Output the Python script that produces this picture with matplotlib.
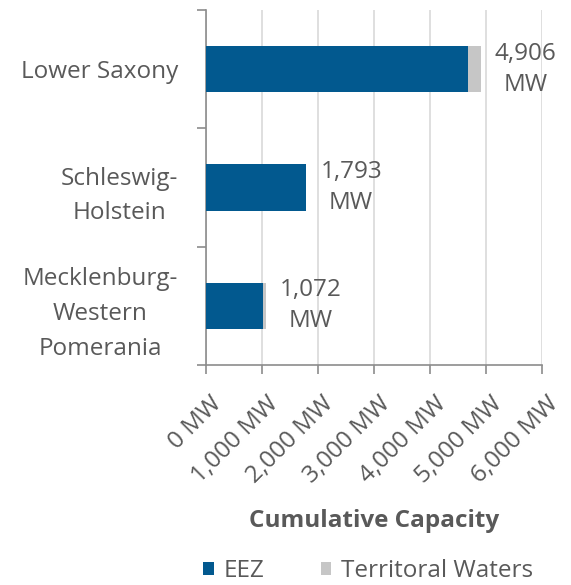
import numpy as np
import matplotlib.pyplot as plt
from matplotlib.ticker import FuncFormatter, FixedLocator
from matplotlib.transforms import ScaledTranslation

plt.rcParams['font.family'] = ['Open Sans', 'DejaVu Sans']

STATES = ["Lower Saxony", "Schleswig-\nHolstein", "Mecklenburg-\nWestern\nPomerania"]
EEZ = [4680, 1793, 1025]
TERRITORIAL = [226, 0, 47]
X_TICKS = [0, 1000, 2000, 3000, 4000, 5000, 6000]

BLUE = "#02598F"
GREY = "#C6C6C6"
TEXT = "#595959"
AXIS = "#8C8C8C"
FS = 17.5


def plot_capacity():
    fig = plt.figure(figsize=(5.71, 5.85), dpi=100)
    ax = fig.add_axes([0.3608, 0.376, 0.5884, 0.6069])

    y = np.arange(len(STATES))
    eez = np.array(EEZ)
    terr = np.array(TERRITORIAL)
    total = eez + terr

    ax.barh(y, eez, height=0.39, color=BLUE, label="EEZ", zorder=3)
    ax.barh(y, terr, left=eez, height=0.39, color=GREY, label="Territoral Waters", zorder=3)

    for yi, t in zip(y, total):
        ax.annotate(f"{t:,}\nMW", xy=(t, yi), xytext=(10, 0), textcoords="offset points",
                    ha="left", va="center", multialignment="center", fontsize=FS,
                    color=TEXT, linespacing=1.4, zorder=4)

    ax.set_xlim(0, 6000)
    ax.set_ylim(2.5, -0.5)
    ax.xaxis.set_major_locator(FixedLocator(X_TICKS))
    ax.xaxis.set_major_formatter(FuncFormatter(lambda v, p: f"{int(v):,} MW"))
    ax.grid(axis="x", color="#D9D9D9", linewidth=1.2, zorder=0)

    ax.yaxis.set_major_locator(FixedLocator([-0.5, 0.5, 1.5, 2.5]))
    ax.yaxis.set_major_formatter(FuncFormatter(lambda v, p: ""))
    ax.set_yticks(y, STATES, minor=True)
    for lab in ax.get_yticklabels(minor=True):
        lab.set_multialignment("center")
        lab.set_linespacing(1.6)

    ax.tick_params(axis="y", which="major", length=6.5, width=1.2, color=AXIS)
    ax.tick_params(axis="y", which="minor", length=0, pad=20, labelsize=FS, labelcolor=TEXT)
    ax.tick_params(axis="x", which="major", length=6.5, width=1.2, color=AXIS,
                   labelsize=FS, labelcolor=TEXT, pad=13)
    shift = ScaledTranslation(4 / 100, 0, fig.dpi_scale_trans)
    for lab in ax.get_xticklabels():
        lab.set_rotation(45)
        lab.set_ha("right")
        lab.set_va("top")
        lab.set_rotation_mode("anchor")
        lab.set_transform(lab.get_transform() + shift)

    for side in ["top", "right"]:
        ax.spines[side].set_visible(False)
    for side in ["left", "bottom"]:
        ax.spines[side].set_color(AXIS)
        ax.spines[side].set_linewidth(1.2)

    ax.set_xlabel("Cumulative Capacity", fontsize=FS, fontweight="bold", color=TEXT)
    ax.xaxis.set_label_coords(0.5, -0.405)

    fig.legend(loc="center", bbox_to_anchor=(0.645, 0.024), ncol=2, frameon=False,
               fontsize=FS, labelcolor=TEXT, handlelength=0.45, handleheight=0.45,
               handletextpad=0.4, columnspacing=2.3)

    fig.savefig("out.png", dpi=100)


plot_capacity()
